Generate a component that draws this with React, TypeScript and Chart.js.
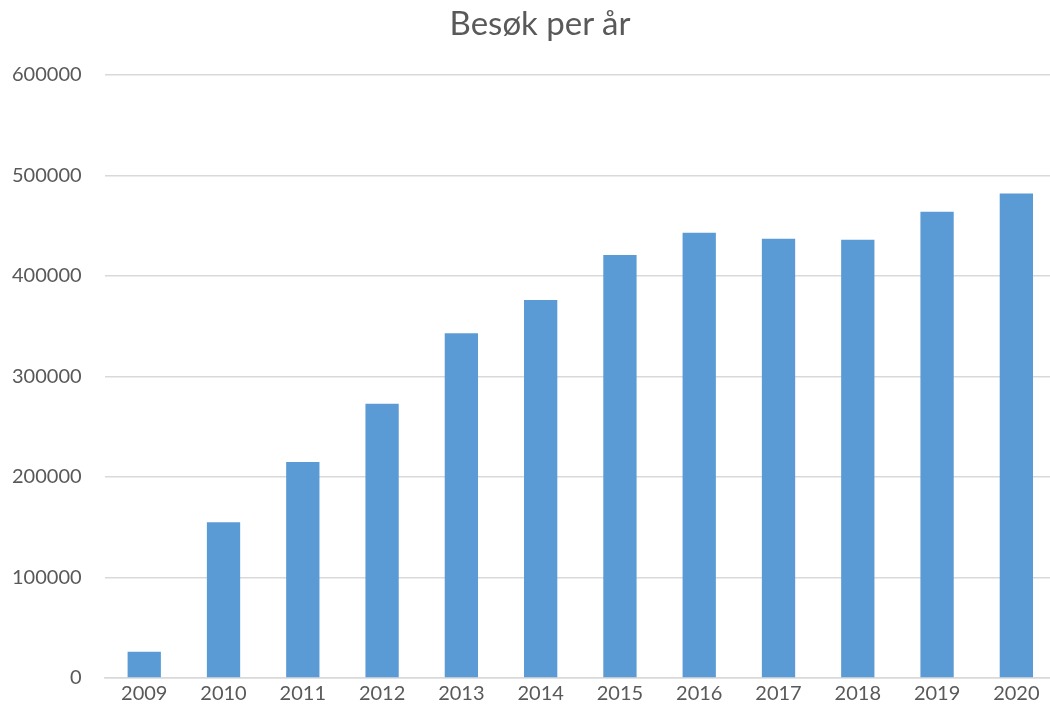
import React, { useEffect, useRef } from "react";
import { Chart, registerables } from "chart.js";

Chart.register(...registerables);

const years = ["2009", "2010", "2011", "2012", "2013", "2014", "2015", "2016", "2017", "2018", "2019", "2020"];
const visits = [26000, 155000, 215000, 273000, 343000, 376000, 421000, 443000, 437000, 436000, 464000, 482000];
const titleText = "Besøk per år";

const TEXT = "#595959";
const FONT = "Lato, 'Open Sans', sans-serif";

export default function App() {
  const ref = useRef<HTMLCanvasElement | null>(null);
  useEffect(() => {
    if (!ref.current) return;
    const chart = new Chart(ref.current, {
      type: "bar",
      data: {
        labels: years,
        datasets: [
          {
            label: "Besøk",
            data: visits,
            backgroundColor: "#5B9BD5",
            borderWidth: 0,
            categoryPercentage: 0.42,
            barPercentage: 1,
          },
        ],
      },
      options: {
        animation: false,
        responsive: false,
        maintainAspectRatio: false,
        layout: { padding: { left: -11, right: 0, top: 75, bottom: 6 } },
        plugins: {
          legend: { display: false },
          tooltip: { enabled: false },
          title: { display: false },
        },
        scales: {
          x: {
            grid: { display: false, drawTicks: false },
            border: { display: true, color: "#D9D9D9", width: 1.5 },
            ticks: { color: TEXT, font: { family: FONT, size: 20 }, padding: 4, maxRotation: 0 },
          },
          y: {
            min: 0,
            max: 600000,
            grid: { color: "#D9D9D9", lineWidth: 1.5, drawTicks: false },
            border: { display: false },
            ticks: {
              stepSize: 100000,
              color: TEXT,
              font: { family: FONT, size: 20 },
              padding: 23,
              callback: (v: any) => String(v),
            },
          },
        },
      },
    });
    return () => chart.destroy();
  }, []);
  return (
    <div style={{ position: "fixed", left: 0, top: 0, width: 1050, height: 716, overflow: "hidden", background: "#fff" }}>
      <canvas ref={ref} width={1056} height={716} style={{ display: "block" }} />
      <div
        style={{
          position: "absolute",
          left: 0,
          top: 2,
          width: 1080,
          textAlign: "center",
          fontFamily: FONT,
          fontSize: 33,
          lineHeight: "40px",
          color: TEXT,
        }}
      >
        {titleText}
      </div>
    </div>
  );
}
